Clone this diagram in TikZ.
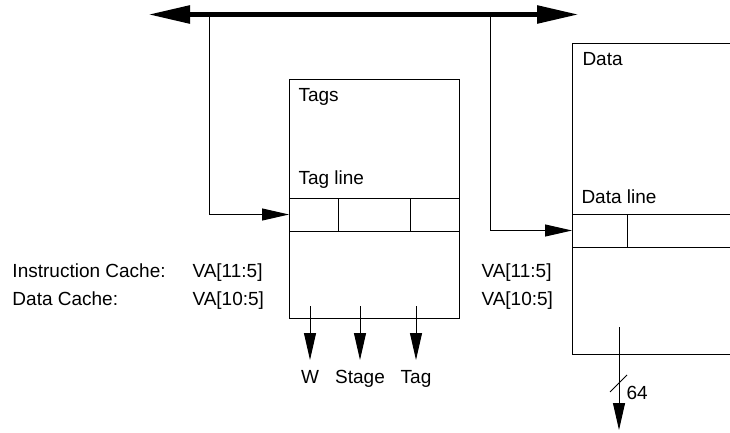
\documentclass[tikz,border=0pt]{standalone}
\usepackage{fontspec}
\setmainfont{Liberation Sans}
\usetikzlibrary{arrows.meta}
\begin{document}
\begin{tikzpicture}[x=1pt,y=-1pt, line width=1pt,
  lbl/.style={inner sep=0pt, anchor=base west, font=\fontsize{19}{22}\selectfont},
  clbl/.style={lbl, anchor=base},
  box/.style={draw, rectangle, inner sep=0pt, anchor=north west},
  arr/.style={-{Triangle[length=27pt,width=12pt]}},
  bus/.style={line width=5.5pt, {Triangle[length=42pt,width=17pt]}-{Triangle[length=42pt,width=17pt]}}]
\useasboundingbox (0,0) rectangle (730,433);
\clip (0,0) rectangle (730,433);
% bus
\coordinate (busL) at (148,14.5);
\coordinate (busR) at (579,14.5);
\coordinate (tapA) at (209.5,14.5);
\coordinate (tapB) at (490,14.5);
% boxes
\node[box, minimum width=169.5pt, minimum height=239pt] (tags) at (289,79) {};
\node[box, minimum width=175pt, minimum height=311.3pt] (data) at (572,42.7) {};
% tag line row
\draw (289,198) -- (458.5,198);
\draw (289,231) -- (458.5,231);
\draw (338,198) -- (338,231);
\draw (410,198) -- (410,231);
% data line row
\draw (572,214) -- (740,214);
\draw (572,247) -- (740,247);
\draw (627,214) -- (627,247);
% inputs
\coordinate (tagin) at (289,214.5);
\coordinate (datain) at (572,230.5);
\draw[arr] (tapA) |- (tagin);
\draw[arr] (tapB) |- (datain);
\draw[bus] (busL) -- (busR);
% outputs
\coordinate (oW1) at (310,306);  \coordinate (oW2) at (310,360);
\coordinate (oS1) at (360,306);  \coordinate (oS2) at (360,360);
\coordinate (oT1) at (416,306);  \coordinate (oT2) at (416,360);
\draw[arr] (oW1) -- (oW2);
\draw[arr] (oS1) -- (oS2);
\draw[arr] (oT1) -- (oT2);
\coordinate (oD1) at (619,327);  \coordinate (oD2) at (619,430);
\draw[arr] (oD1) -- (oD2);
\coordinate (sl1) at (610,392);  \coordinate (sl2) at (627,375);
\draw (sl1) -- (sl2);
% texts
\node[lbl] (tagsT) at (298,101.7) {Tags};
\node[lbl] (tagline) at (298,184) {Tag line};
\node[lbl] (dataT) at (582,66) {Data};
\node[lbl] (dataline) at (581,203) {Data line};
\node[lbl] (ic) at (12,277) {Instruction Cache:};
\node[lbl] (dc) at (12,305) {Data Cache:};
\node[lbl] (va1) at (192,277) {VA[11:5]};
\node[lbl] (va2) at (192,305) {VA[10:5]};
\node[lbl] (va3) at (481,277) {VA[11:5]};
\node[lbl] (va4) at (481,305) {VA[10:5]};
\node[clbl] (lW) at (310,383) {W};
\node[clbl] (lS) at (360,383) {Stage};
\node[clbl] (lT) at (416,383) {Tag};
\node[lbl] (l64) at (626,399) {64};
\end{tikzpicture}
\end{document}
